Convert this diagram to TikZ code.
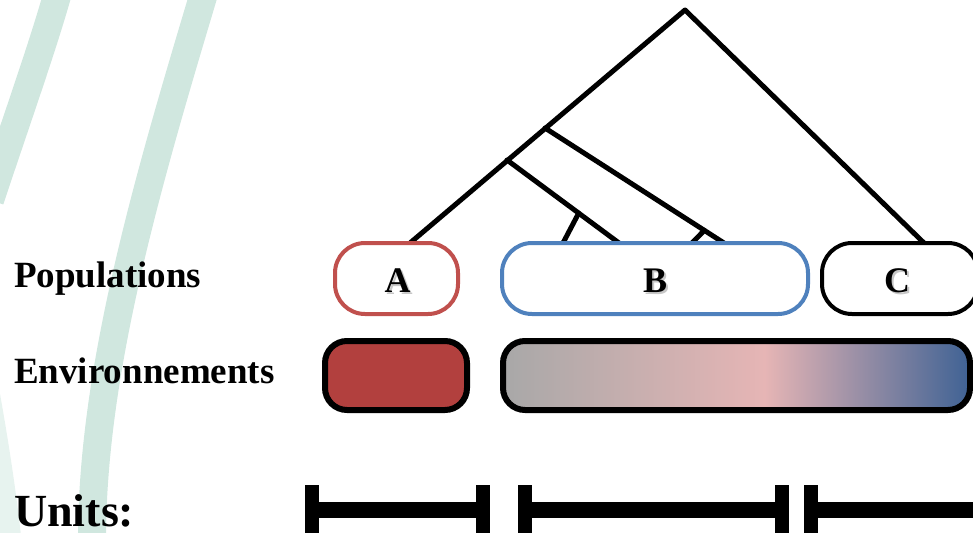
\documentclass[tikz,border=0pt]{standalone}
\usepackage{fontspec}
\setmainfont{Liberation Serif}
\usetikzlibrary{calc}

\definecolor{band}{RGB}{208,231,223}
\definecolor{popred}{RGB}{192,80,77}
\definecolor{popblue}{RGB}{79,129,189}
\definecolor{envred}{RGB}{178,64,62}
\definecolor{envgray}{RGB}{168,168,168}
\definecolor{envpink}{RGB}{230,181,181}
\definecolor{envblue}{RGB}{63,98,148}

% gray -> pink -> blue ramp for the second environment
\pgfdeclarehorizontalshading{envgrad}{100bp}{%
  color(0bp)=(envgray); color(25bp)=(envgray);
  color(53bp)=(envpink);
  color(75bp)=(envblue); color(100bp)=(envblue)}

\tikzset{
  bandline/.style={draw=band, line width=28pt},
  treeline/.style={line width=5pt, line cap=round, line join=round},
  popbox/.style={line width=4pt, fill=white, rounded corners=30pt},
  envbox/.style={line width=6pt, draw=black, rounded corners=22pt},
  rowlabel/.style={anchor=base west, inner sep=0pt,
    font=\fontsize{37}{44}\selectfont\bfseries},
  poplabel/.style={anchor=base, inner sep=0pt,
    font=\fontsize{36}{42}\selectfont\bfseries},
  popshadow/.style={poplabel, text=black!22},
  unitbar/.style={line width=14pt},
  unitspan/.style={line width=16pt},
}

\begin{document}
\begin{tikzpicture}[x=1pt, y=-1pt]
\useasboundingbox (0,0) rectangle (973,532);

% decorative background bands
\draw[bandline] (60,-15) .. controls (45,40) and (20,110) .. (-10,200);
\draw[bandline] (205,-10) .. controls (148,180) and (92,370) .. (92,540);
\draw[bandline, draw opacity=0.5] (-14,395) .. controls (-6,440) and (2,490) .. (8,545);

% row labels
\node[rowlabel] (lpop) at (14,287) {Populations};
\node[rowlabel] (lenv) at (14,383) {Environnements};
\node[anchor=base west, inner sep=0pt, font=\fontsize{46}{52}\selectfont\bfseries]
  (lunits) at (14,526) {Units:};

% tree
\coordinate (root) at (685,10);
\coordinate (tA)   at (410,243);
\coordinate (tC)   at (924,243);
\coordinate (n1)   at (545,128);
\coordinate (n2)   at (507,160);
\coordinate (b1)   at (724,243);
\coordinate (b2)   at (619,243);
\coordinate (s1)   at ($(n2)!0.64!(b2)$);
\coordinate (s1e)  at (563,243);
\coordinate (s2)   at ($(n1)!0.89!(b1)$);
\coordinate (s2e)  at (692,243);
\draw[treeline] (tA) -- (root) -- (tC);
\draw[treeline] (n1) -- (b1);
\draw[treeline] (n2) -- (b2);
\draw[treeline] (s1) -- (s1e);
\draw[treeline] (s2) -- (s2e);

% population boxes
\draw[popbox, draw=popred]  (335,243) rectangle (458,314);
\draw[popbox, draw=popblue] (502,243) rectangle (808,314);
\draw[popbox, draw=black]   (822,243) rectangle (978,314);

\node[popshadow] at (399.5,294.5) {A};
\node[poplabel]  (pA) at (397.5,292) {A};
\node[popshadow] at (657,294.5) {B};
\node[poplabel]  (pB) at (655,292) {B};
\node[popshadow] at (899,294.5) {C};
\node[poplabel]  (pC) at (897,292) {C};

% environment boxes
\draw[envbox, fill=envred] (325,341) rectangle (467,410);
\draw[envbox, shading=envgrad] (503,341) rectangle (970,410);

% units
\draw[unitbar] (311.5,485) -- (311.5,545);
\draw[unitbar] (482.5,485) -- (482.5,545);
\draw[unitspan] (311.5,510) -- (482.5,510);
\draw[unitbar] (525,485) -- (525,545);
\draw[unitbar] (782,485) -- (782,545);
\draw[unitspan] (525,510) -- (782,510);
\draw[unitbar] (811,485) -- (811,545);
\draw[unitspan] (811,510) -- (990,510);
\end{tikzpicture}
\end{document}
